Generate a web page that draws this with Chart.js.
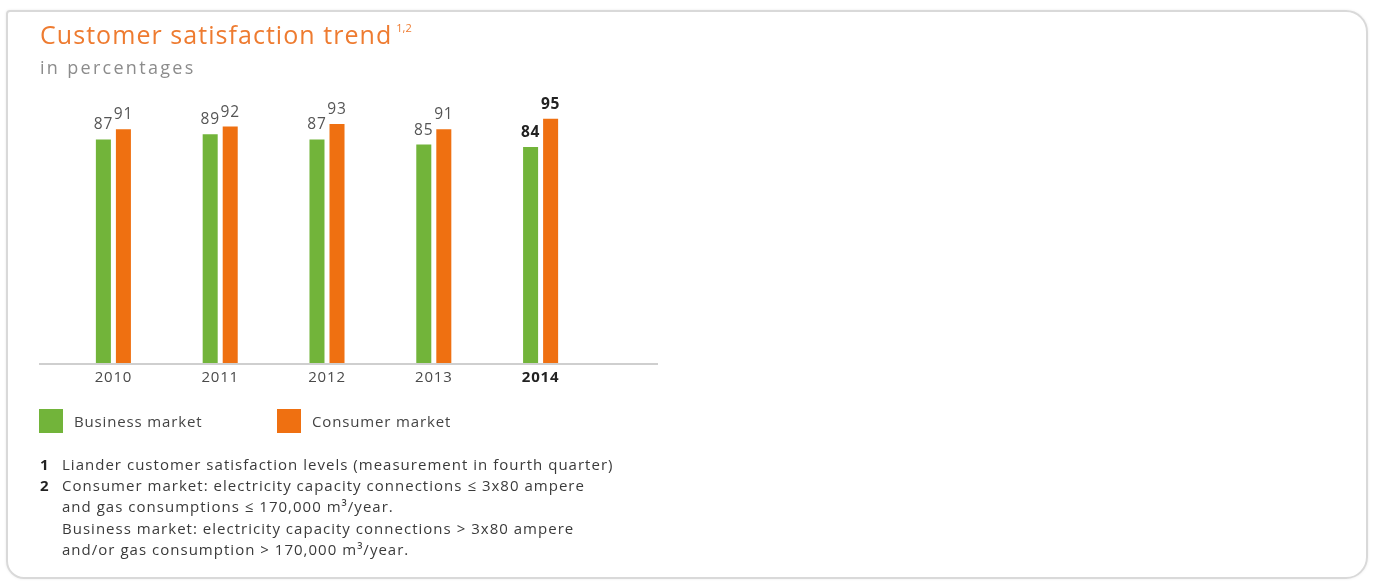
<!DOCTYPE html>
<html>
<head>
<meta charset="utf-8">
<script src="https://cdn.jsdelivr.net/npm/chart.js@4.4.1/dist/chart.umd.min.js"></script>
<style>
  html, body { margin: 0; padding: 0; background: #ffffff; }
  body { width: 1373px; height: 581px; position: relative; overflow: hidden; font-family: "Open Sans", "DejaVu Sans", sans-serif; }
  .frame { position: absolute; left: 6px; top: 10px; width: 1358px; height: 565px; border: 2px solid #d9d9d9; border-radius: 4px 22px 22px 18px; box-shadow: 0 0 3px rgba(0,0,0,0.08); }
  #chartWrap { position: absolute; left: 0; top: 0; width: 1373px; height: 581px; }
  .title { position: absolute; left: 40px; top: 17px; font-size: 25px; letter-spacing: 1.05px; color: #ee7b30; white-space: nowrap; }
  .title sup { font-size: 11px; letter-spacing: 0; vertical-align: 0; position: relative; top: -12px; margin-left: 4px; }
  .subtitle { position: absolute; left: 40px; top: 55px; font-size: 18px; letter-spacing: 2.3px; color: #8c8c8c; white-space: nowrap; }
  .legend { position: absolute; top: 409px; height: 24px; display: flex; align-items: center; font-size: 15px; letter-spacing: 0.85px; color: #444; white-space: nowrap; }
  .legend .sw { width: 24px; height: 24px; margin-right: 11px; }
  .notes { position: absolute; left: 40px; top: 454px; font-size: 15px; line-height: 21.2px; letter-spacing: 1.02px; color: #3a3a3a; white-space: nowrap; }
  .notes .n { display: inline-block; width: 22px; font-weight: bold; color: #222; letter-spacing: 0; }
  .notes .ind { padding-left: 22px; }
</style>
</head>
<body>
<div class="frame"></div>
<div id="chartWrap"><canvas id="c" width="1373" height="581"></canvas></div>
<div class="title">Customer satisfaction trend<sup>1,2</sup></div>
<div class="subtitle">in percentages</div>
<div class="legend" style="left:39px;"><span class="sw" style="background:#72b43a"></span>Business market</div>
<div class="legend" style="left:277px;"><span class="sw" style="background:#ef7011"></span>Consumer market</div>
<div class="notes">
  <div><span class="n">1</span>Liander customer satisfaction levels (measurement in fourth quarter)</div>
  <div><span class="n">2</span>Consumer market: electricity capacity connections ≤ 3x80 ampere</div>
  <div class="ind">and gas consumptions ≤ 170,000 m³/year.</div>
  <div class="ind">Business market: electricity capacity connections &gt; 3x80 ampere</div>
  <div class="ind">and/or gas consumption &gt; 170,000 m³/year.</div>
</div>
<script>
const years = ['2010', '2011', '2012', '2013', '2014'];
const businessMarket = [87, 89, 87, 85, 84];
const consumerMarket = [91, 92, 93, 91, 95];
const highlightYear = '2014';

const GREEN = '#72b43a';
const ORANGE = '#ef7011';
const FONT = '"Open Sans", "DejaVu Sans", sans-serif';

const baselinePlugin = {
  id: 'baseline',
  beforeDraw(chart) {
    chart.ctx.letterSpacing = '0.8px';
  },
  beforeDatasetsDraw(chart) {
    const ctx = chart.ctx;
    const y = chart.scales.y.getPixelForValue(0) + 1;
    ctx.save();
    ctx.strokeStyle = '#cfcfcf';
    ctx.lineWidth = 2;
    ctx.beginPath();
    ctx.moveTo(39, y);
    ctx.lineTo(658, y);
    ctx.stroke();
    ctx.restore();
  }
};

const valueLabels = {
  id: 'valueLabels',
  afterDatasetsDraw(chart) {
    const ctx = chart.ctx;
    ctx.save();
    ctx.textAlign = 'center';
    ctx.textBaseline = 'alphabetic';
    chart.data.datasets.forEach((ds, di) => {
      const meta = chart.getDatasetMeta(di);
      meta.data.forEach((el, i) => {
        const bold = chart.data.labels[i] === highlightYear;
        ctx.font = (bold ? 'bold ' : '') + '15.5px ' + FONT;
        ctx.fillStyle = bold ? '#222222' : '#555555';
        ctx.fillText(String(ds.data[i]), el.x, el.y - 10);
      });
    });
    ctx.restore();
  }
};

new Chart(document.getElementById('c'), {
  type: 'bar',
  data: {
    labels: years,
    datasets: [
      { label: 'Business market', data: businessMarket, backgroundColor: GREEN },
      { label: 'Consumer market', data: consumerMarket, backgroundColor: ORANGE }
    ]
  },
  options: {
    responsive: false,
    animation: false,
    events: [],
    layout: { padding: { left: 60, right: 779, top: 106, bottom: 198 } },
    datasets: { bar: { categoryPercentage: 0.375, barPercentage: 0.75 } },
    plugins: { legend: { display: false }, tooltip: { enabled: false } },
    scales: {
      x: {
        grid: { display: false, drawTicks: false },
        border: { display: false },
        ticks: {
          padding: 6,
          color: (c) => years[c.index] === highlightYear ? '#222222' : '#4a4a4a',
          font: (c) => ({ family: FONT, size: 15, weight: years[c.index] === highlightYear ? 'bold' : 'normal' })
        },
        afterFit: (scale) => { scale.height = 20; }
      },
      y: { display: false, min: 0, max: 100 }
    }
  },
  plugins: [baselinePlugin, valueLabels]
});
</script>
</body>
</html>
